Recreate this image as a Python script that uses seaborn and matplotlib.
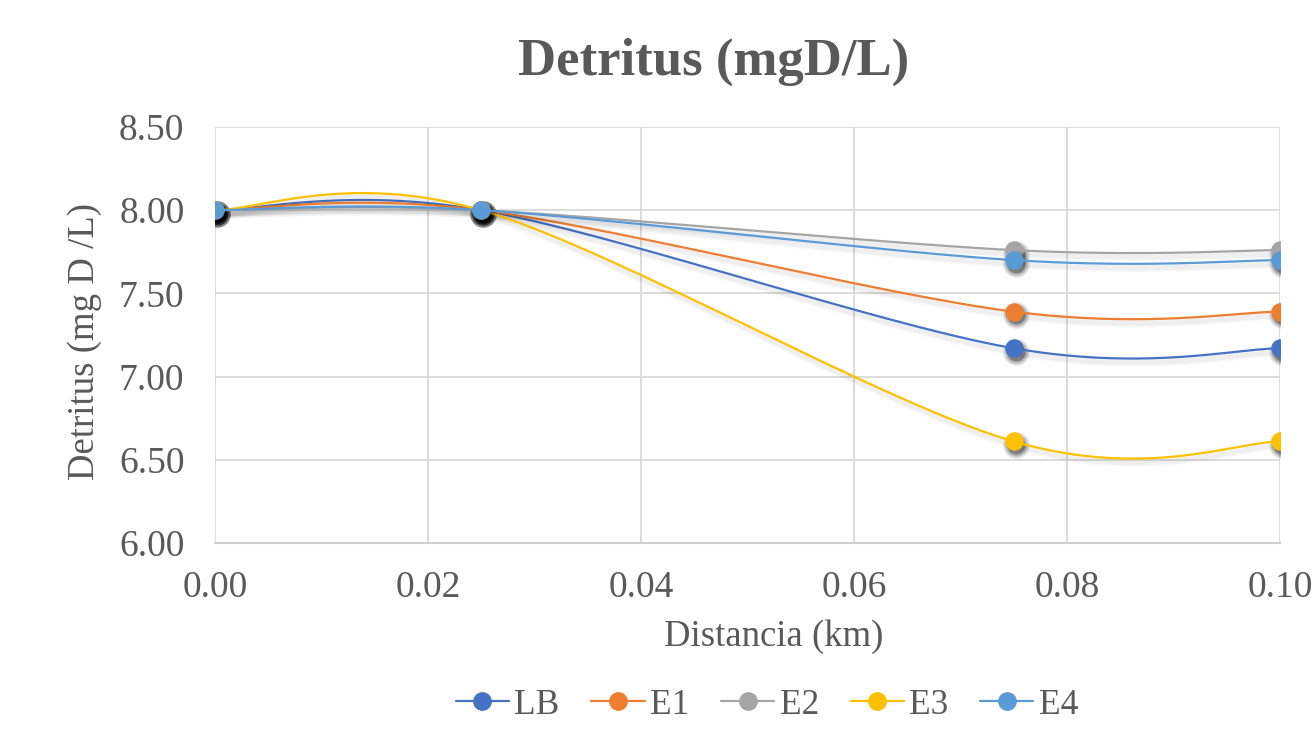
import numpy as np
import pandas as pd
import matplotlib
matplotlib.use("Agg")
import matplotlib.pyplot as plt
import matplotlib.transforms as mtransforms
from matplotlib.lines import Line2D
import seaborn as sns

# ---- data ----
distancia = [0.0, 0.025, 0.075, 0.10]
series_names = ["LB", "E1", "E2", "E3", "E4"]
LB = [8.00, 8.00, 7.17, 7.17]
E1 = [8.00, 8.00, 7.39, 7.39]
E2 = [8.00, 8.00, 7.76, 7.76]
E3 = [8.00, 8.00, 6.61, 6.61]
E4 = [8.00, 8.00, 7.70, 7.70]
values = [LB, E1, E2, E3, E4]
colors = ["#4472C4", "#ED7D31", "#A5A5A5", "#FFC000", "#5B9BD5"]
xticks = [0.00, 0.02, 0.04, 0.06, 0.08, 0.10]
yticks = [6.00, 6.50, 7.00, 7.50, 8.00, 8.50]

sns.set_theme(style="white")
plt.rcParams["font.family"] = ["Liberation Serif", "DejaVu Serif"]
gray = "#595959"


def smooth(xs, ys, n=60):
    """Excel-style smoothed line (Catmull-Rom Bezier) through the points."""
    P = np.column_stack([xs, ys]).astype(float)
    m = len(P)
    out = []
    for i in range(m - 1):
        p0 = P[i - 1] if i > 0 else P[i]
        p1 = P[i]
        p2 = P[i + 1]
        p3 = P[i + 2] if i + 2 < m else P[i + 1]
        c1 = p1 + (p2 - p0) / 6.0
        c2 = p2 - (p3 - p1) / 6.0
        t = np.linspace(0, 1, n)[:, None]
        seg = ((1 - t) ** 3) * p1 + 3 * ((1 - t) ** 2) * t * c1 + 3 * (1 - t) * t ** 2 * c2 + t ** 3 * p2
        if i > 0:
            seg = seg[1:]
        out.append(seg)
    out = np.vstack(out)
    return out[:, 0], out[:, 1]


fig = plt.figure(figsize=(13.13, 7.32), dpi=100)
ax = fig.add_axes([0.1637, 0.2582, 0.8113, 0.5683])

line_shadow_tr = mtransforms.offset_copy(ax.transData, fig=fig, x=1.0, y=-3.0, units="points")
mark_shadow_tr = mtransforms.offset_copy(ax.transData, fig=fig, x=1.5, y=-2.5, units="points")

for name, vals, col in zip(series_names, values, colors):
    sx, sy = smooth(distancia, vals)
    dfs = pd.DataFrame({"x": sx, "y": sy})
    dfp = pd.DataFrame({"x": distancia, "y": vals})
    # soft shadow under line
    for lw, a in [(6, 0.025), (3.5, 0.04)]:
        sns.lineplot(data=dfs, x="x", y="y", ax=ax, color="black", linewidth=lw, alpha=a,
                     sort=False, estimator=None, legend=False, transform=line_shadow_tr)
    # soft shadow under markers
    for ms, a in [(19, 0.12), (16, 0.18), (13, 0.3)]:
        sns.lineplot(data=dfp, x="x", y="y", ax=ax, color="black", linewidth=0, marker="o",
                     markersize=ms, markeredgewidth=0, alpha=a, estimator=None,
                     legend=False, transform=mark_shadow_tr)
    sns.lineplot(data=dfs, x="x", y="y", ax=ax, color=col, linewidth=1.6, sort=False,
                 estimator=None, legend=False)
    sns.lineplot(data=dfp, x="x", y="y", ax=ax, color=col, linewidth=0, marker="o",
                 markersize=12.5, markeredgecolor=col, estimator=None, legend=False)

ax.set_xlim(0, 0.10)
ax.set_ylim(6.0, 8.5)
ax.set_xticks(xticks)
ax.set_yticks(yticks)
ax.set_xticklabels([f"{v:.2f}" for v in xticks])
ax.set_yticklabels([f"{v:.2f}" for v in yticks])
ax.grid(True, color="#d9d9d9", linewidth=1.3)
ax.set_axisbelow(True)
for s in ["top", "right", "left"]:
    ax.spines[s].set_visible(False)
ax.spines["bottom"].set_color("#d0d0d0")
ax.spines["bottom"].set_linewidth(1.5)
ax.tick_params(axis="x", length=0, labelsize=27, labelcolor=gray, pad=20)
ax.tick_params(axis="y", length=0, labelsize=27, labelcolor=gray, pad=22)

ax.set_xlabel("Distancia (km)", fontsize=26.5, color=gray)
ax.xaxis.set_label_coords((774 - 215) / 1065, -(637 - 543) / 416, transform=ax.transAxes)
ax.xaxis.label.set_va("center")
ax.set_ylabel("Detritus (mg D /L)", fontsize=26.5, color=gray)
ax.yaxis.set_label_coords(-(215 - 85) / 1065, (543 - 342) / 416, transform=ax.transAxes)
ax.yaxis.label.set_va("center")

fig.text(714 / 1313, 1 - 62 / 732, "Detritus (mgD/L)", fontsize=38, fontweight="bold", color=gray,
         ha="center", va="center")

handles = [Line2D([0], [0], color=c, linewidth=1.6, marker="o", markersize=12.5,
                  markeredgecolor=c) for c in colors]
fig.legend(handles, series_names, loc="center", bbox_to_anchor=(767 / 1313, 1 - 705 / 732), ncol=5,
           frameon=False, fontsize=25.5, handlelength=1.5, handletextpad=0.15,
           columnspacing=0.9, labelcolor=gray)

fig.savefig("out.png", dpi=100)
